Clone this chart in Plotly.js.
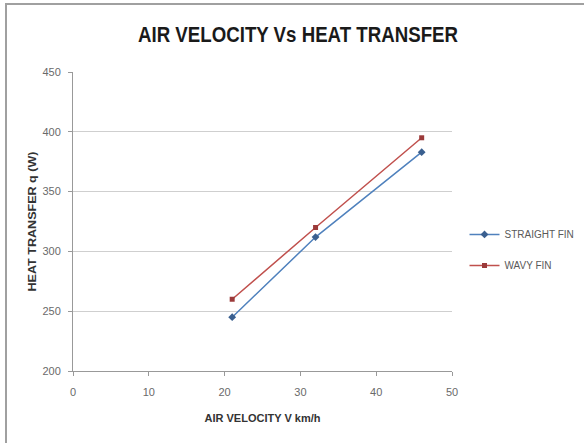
<!DOCTYPE html>
<html><head><meta charset="utf-8">
<script src="https://cdn.plot.ly/plotly-3.0.1.min.js"></script>
<style>
html,body{margin:0;padding:0;background:#fff;overflow:hidden;}
#chart{width:584px;height:443px;position:relative;}
#frame{position:absolute;left:5px;top:3px;width:700px;height:600px;border:2px solid #a0a0a0;box-sizing:border-box;pointer-events:none;}
</style></head>
<body>
<div id="chart"></div>
<div id="frame"></div>
<script>
var velocity = [21, 32, 46];
var straightFin = [245, 312, 383];
var wavyFin = [260, 320, 395];
var seriesNames = ['STRAIGHT FIN', 'WAVY FIN'];
var xTicks = [0, 10, 20, 30, 40, 50];
var yTicks = [200, 250, 300, 350, 400, 450];

var font = '"Liberation Sans", Arial, sans-serif';

var traces = [
  {x: velocity, y: straightFin, name: seriesNames[0], legendgroup: 'a', type: 'scatter', mode: 'lines+markers',
   line: {color: '#4F81BD', width: 1.5}, marker: {symbol: 'diamond', size: 6, color: '#3a5f8f'}},
  {x: velocity, y: wavyFin, name: seriesNames[1], legendgroup: 'b', type: 'scatter', mode: 'lines+markers',
   line: {color: '#C0504D', width: 1.5}, marker: {symbol: 'square', size: 5, color: '#9b3a3a'}}
];

var layout = {
  width: 584, height: 443,
  margin: {l: 73, r: 132, t: 72, b: 72, autoexpand: false},
  paper_bgcolor: '#fff', plot_bgcolor: '#fff',
  font: {family: font, color: '#666', size: 11},
  title: {text: '<b>AIR VELOCITY Vs HEAT TRANSFER</b>', font: {family: font, size: 22, color: '#1a1a1a'},
          x: 298/584, xanchor: 'center', y: 1 - 34/443, yanchor: 'middle', xref: 'paper'},
  xaxis: {range: [0, 50], tickvals: xTicks, ticktext: xTicks.map(String), showgrid: false, zeroline: false,
          automargin: false,
          showline: true, linecolor: '#999', linewidth: 1, ticks: 'outside', ticklen: 4, tickcolor: '#999',
          ticklabelstandoff: 7, tickfont: {size: 11, color: '#6a6a6a'},
          title: {text: '<b>AIR VELOCITY V km/h</b>', font: {size: 11, color: '#333'}, standoff: 17}},
  yaxis: {range: [200, 450], tickvals: yTicks, ticktext: yTicks.map(String), showgrid: true, gridcolor: '#cfcfcf',
          automargin: false,
          gridwidth: 1, zeroline: false, showline: true, linecolor: '#999', linewidth: 1, ticks: 'outside',
          ticklen: 4, tickcolor: '#999', ticklabelstandoff: 5, tickfont: {size: 11, color: '#6a6a6a'},
          title: {text: '<b>HEAT TRANSFER q (W)</b>', font: {size: 11, color: '#333'}, standoff: 3}},
  legend: {x: 1.033, xanchor: 'left', y: 0.405, yanchor: 'middle', font: {size: 10, color: '#595959'},
           bgcolor: 'rgba(0,0,0,0)', tracegroupgap: 12, itemwidth: 30, traceorder: 'grouped'},
  showlegend: true
};

Plotly.newPlot('chart', traces, layout, {displayModeBar: false, staticPlot: true}).then(function () {
  var t = document.querySelector('.gtitle');
  if (t) {
    t.setAttribute('text-anchor', 'start');
    t.setAttribute('x', 138);
    t.setAttribute('textLength', 320);
    t.setAttribute('lengthAdjust', 'spacingAndGlyphs');
  }
  var yt = document.querySelector('.ytitle');
  if (yt) { yt.setAttribute('textLength', 140); yt.setAttribute('lengthAdjust', 'spacingAndGlyphs'); }
});
</script>
</body></html>
